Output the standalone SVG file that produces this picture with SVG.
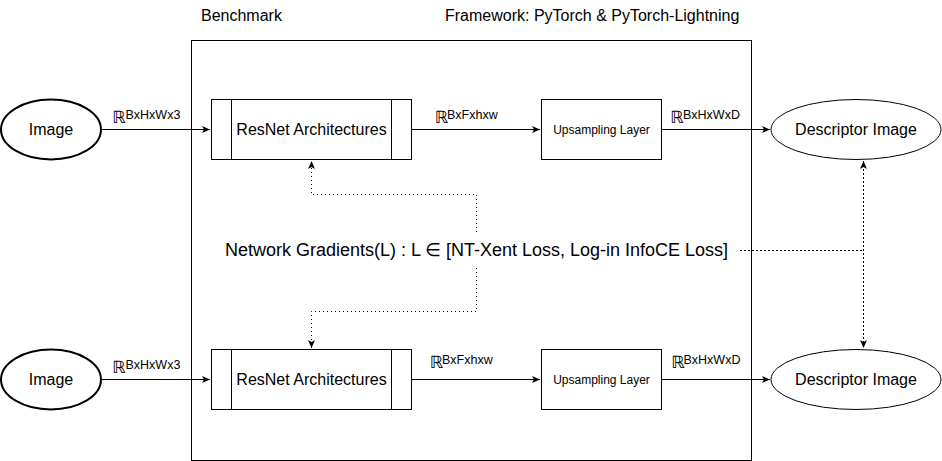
<svg xmlns="http://www.w3.org/2000/svg" width="942" height="461" viewBox="0 0 942 461">
<style>
text{font-family:"Liberation Sans","DejaVu Sans",sans-serif;fill:#000}
.shape{fill:#fff;stroke:#000;stroke-width:1}
.thick{stroke-width:2}
.edge{fill:none;stroke:#000;stroke-width:1}
.dot{fill:none;stroke:#000;stroke-width:1;stroke-dasharray:1 3}
.dash{fill:none;stroke:#000;stroke-width:1;stroke-dasharray:2 2}
.t16{font-size:16px}
.t12{font-size:12px}
.r{font-size:17px;font-family:"DejaVu Sans",sans-serif}
.sup{font-size:12.5px;font-family:"Liberation Sans",sans-serif}
</style>
<defs>
<marker id="arr" markerUnits="userSpaceOnUse" markerWidth="10" markerHeight="10" refX="8" refY="4" orient="auto-start-reverse">
<path d="M0,0.5 L8,4 L0,7.5 L2,4 Z" fill="#000" stroke="none"/>
</marker>
</defs>
<g id="headers">
<text x="201" y="21" style="font-size:16px">Benchmark</text>
<text x="445" y="21" style="font-size:16px">Framework: PyTorch &amp; PyTorch-Lightning</text>
</g>
<g id="container"><rect class="shape" x="191.5" y="40.5" width="560" height="420"/></g>
<g id="image-top"><ellipse class="shape thick" cx="51" cy="129.5" rx="50" ry="30"/><text class="t16" x="51" y="135" text-anchor="middle">Image</text></g>
<g id="image-bottom"><ellipse class="shape thick" cx="51" cy="379.5" rx="50" ry="30"/><text class="t16" x="51" y="385" text-anchor="middle">Image</text></g>
<g id="resnet-top"><rect class="shape" x="211.5" y="99.5" width="200" height="60"/><line class="edge" x1="231.5" y1="99.5" x2="231.5" y2="159.5"/><line class="edge" x1="391.5" y1="99.5" x2="391.5" y2="159.5"/><text class="t16" x="311.5" y="135" text-anchor="middle">ResNet Architectures</text></g>
<g id="resnet-bottom"><rect class="shape" x="211.5" y="349.5" width="200" height="60"/><line class="edge" x1="231.5" y1="349.5" x2="231.5" y2="409.5"/><line class="edge" x1="391.5" y1="349.5" x2="391.5" y2="409.5"/><text class="t16" x="311.5" y="385" text-anchor="middle">ResNet Architectures</text></g>
<g id="upsampling-top"><rect class="shape" x="541.5" y="99.5" width="120" height="60"/><text class="t12" x="601.5" y="133.5" text-anchor="middle">Upsampling Layer</text></g>
<g id="upsampling-bottom"><rect class="shape" x="541.5" y="349.5" width="120" height="60"/><text class="t12" x="601.5" y="383.5" text-anchor="middle">Upsampling Layer</text></g>
<g id="descriptor-top"><ellipse class="shape" cx="856" cy="129.5" rx="85" ry="30"/><text class="t16" x="856" y="135" text-anchor="middle">Descriptor Image</text></g>
<g id="descriptor-bottom"><ellipse class="shape" cx="856" cy="379.5" rx="85" ry="30"/><text class="t16" x="856" y="385" text-anchor="middle">Descriptor Image</text></g>
<g id="gradients"><text x="476.5" y="256" text-anchor="middle" style="font-size:18px">Network Gradients(L) : L ∈ [NT-Xent Loss, Log-in InfoCE Loss]</text></g>
<g id="connectors">
<path class="edge" d="M101,129.5 H210" marker-end="url(#arr)"/>
<path class="edge" d="M411.5,129.5 H540" marker-end="url(#arr)"/>
<path class="edge" d="M661.5,129.5 H770" marker-end="url(#arr)"/>
<path class="edge" d="M101,379.5 H210" marker-end="url(#arr)"/>
<path class="edge" d="M411.5,379.5 H540" marker-end="url(#arr)"/>
<path class="edge" d="M661.5,379.5 H770" marker-end="url(#arr)"/>
<path class="dot" d="M476.5,232 V194.5 H311.5 V161" marker-end="url(#arr)"/>
<path class="dot" d="M476.5,268 V311.5 H311.5 V348" marker-end="url(#arr)"/>
<path class="dash" d="M740,250.5 H863.5"/>
<path class="dash" d="M863.5,161 V348" marker-start="url(#arr)" marker-end="url(#arr)"/>
<text x="112" y="123"><tspan class="r">ℝ</tspan><tspan class="sup" x="125.5" y="119">BxHxWx3</tspan></text>
<text x="434.5" y="123"><tspan class="r">ℝ</tspan><tspan class="sup" x="447" y="118.5">BxFxhxw</tspan></text>
<text x="670" y="123"><tspan class="r">ℝ</tspan><tspan class="sup" x="683" y="118.5">BxHxWxD</tspan></text>
<text x="112" y="373"><tspan class="r">ℝ</tspan><tspan class="sup" x="125.5" y="369">BxHxWx3</tspan></text>
<text x="429.5" y="368"><tspan class="r">ℝ</tspan><tspan class="sup" x="442" y="363.5">BxFxhxw</tspan></text>
<text x="671" y="368"><tspan class="r">ℝ</tspan><tspan class="sup" x="683.5" y="363.5">BxHxWxD</tspan></text>
</g>
</svg>
